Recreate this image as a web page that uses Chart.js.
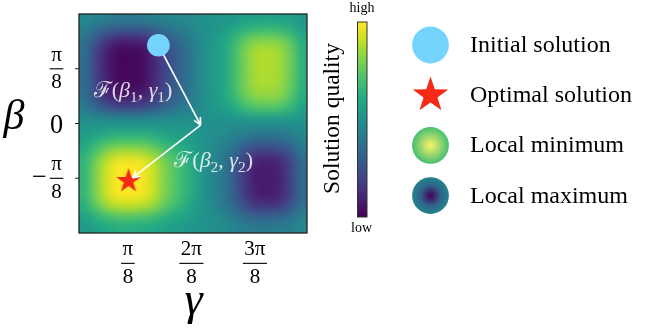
<!DOCTYPE html>
<html>
<head>
<meta charset="utf-8">
<title>Solution quality landscape</title>
<script src="https://cdn.jsdelivr.net/npm/chart.js@4.4.1/dist/chart.umd.min.js"></script>
<style>
  html, body { margin: 0; padding: 0; background: #fff; }
  #wrap { width: 664px; height: 332px; }
</style>
</head>
<body>
<div id="wrap"><canvas id="landscape" width="664" height="332"></canvas></div>
<script>
// axis values are in units of pi/8
const gammaRange = [0.23, 3.82];
const betaRange = [-2, 2];
const gammaTicks = [1, 2, 3];
const gammaTickLabels = ['π/8', '2π/8', '3π/8'];
const betaTicks = [1, 0, -1];
const betaTickLabels = ['π/8', '0', '−π/8'];

// solution quality (0 = low, 1 = high), rows from top (beta = 2) to bottom (beta = -2)
const quality = [
  [0.47,0.44,0.42,0.40,0.40,0.41,0.42,0.44,0.46,0.47,0.49,0.51,0.52,0.53,0.56,0.57,0.58,0.57,0.56,0.53],
  [0.42,0.35,0.29,0.26,0.26,0.26,0.30,0.35,0.39,0.43,0.48,0.51,0.54,0.59,0.65,0.68,0.69,0.68,0.64,0.57],
  [0.37,0.25,0.15,0.09,0.09,0.10,0.16,0.25,0.32,0.39,0.46,0.52,0.57,0.65,0.75,0.81,0.82,0.81,0.74,0.62],
  [0.35,0.20,0.08,0.02,0.02,0.03,0.10,0.20,0.29,0.37,0.45,0.53,0.58,0.67,0.79,0.87,0.88,0.86,0.78,0.64],
  [0.35,0.20,0.08,0.02,0.02,0.03,0.10,0.20,0.29,0.37,0.45,0.53,0.58,0.67,0.79,0.87,0.88,0.86,0.78,0.64],
  [0.35,0.20,0.08,0.02,0.02,0.03,0.10,0.20,0.29,0.37,0.45,0.53,0.58,0.67,0.79,0.87,0.88,0.86,0.78,0.64],
  [0.35,0.21,0.09,0.03,0.03,0.04,0.11,0.21,0.29,0.37,0.45,0.53,0.58,0.67,0.79,0.86,0.87,0.85,0.77,0.64],
  [0.37,0.24,0.13,0.08,0.08,0.09,0.15,0.24,0.31,0.38,0.46,0.52,0.57,0.65,0.76,0.82,0.83,0.82,0.74,0.62],
  [0.41,0.32,0.25,0.21,0.21,0.22,0.26,0.32,0.37,0.42,0.47,0.52,0.55,0.60,0.68,0.72,0.73,0.72,0.67,0.58],
  [0.48,0.46,0.45,0.44,0.44,0.44,0.45,0.46,0.47,0.48,0.49,0.50,0.51,0.52,0.54,0.55,0.55,0.55,0.54,0.52],
  [0.52,0.54,0.56,0.57,0.57,0.57,0.56,0.54,0.53,0.52,0.51,0.50,0.49,0.47,0.45,0.44,0.44,0.44,0.46,0.48],
  [0.56,0.62,0.67,0.70,0.70,0.70,0.67,0.62,0.59,0.56,0.52,0.49,0.46,0.42,0.37,0.33,0.33,0.34,0.37,0.44],
  [0.62,0.72,0.81,0.86,0.86,0.85,0.80,0.72,0.66,0.60,0.54,0.48,0.43,0.36,0.26,0.20,0.19,0.21,0.27,0.39],
  [0.65,0.79,0.91,0.98,0.98,0.97,0.90,0.79,0.71,0.63,0.55,0.47,0.41,0.31,0.19,0.10,0.09,0.11,0.20,0.35],
  [0.66,0.81,0.94,1.00,1.00,0.99,0.92,0.81,0.72,0.64,0.55,0.47,0.41,0.30,0.17,0.08,0.07,0.09,0.19,0.34],
  [0.66,0.81,0.94,1.00,1.00,0.99,0.92,0.81,0.72,0.64,0.55,0.47,0.41,0.30,0.17,0.08,0.07,0.09,0.19,0.34],
  [0.66,0.80,0.93,0.99,0.99,0.98,0.91,0.80,0.72,0.64,0.55,0.47,0.41,0.31,0.18,0.09,0.08,0.10,0.19,0.34],
  [0.63,0.75,0.85,0.90,0.90,0.89,0.84,0.75,0.68,0.61,0.54,0.48,0.42,0.34,0.24,0.17,0.16,0.17,0.25,0.37],
  [0.57,0.64,0.70,0.73,0.73,0.72,0.69,0.64,0.60,0.56,0.52,0.49,0.46,0.41,0.35,0.31,0.31,0.32,0.36,0.43],
  [0.54,0.57,0.60,0.62,0.62,0.61,0.60,0.57,0.55,0.53,0.51,0.49,0.48,0.45,0.42,0.40,0.40,0.41,0.43,0.46]
];

// optimisation path
const initialPoint = { x: 1.48, y: 1.43 };
const stepPoint = { x: 2.145, y: -0.03 };
const optimalPoint = { x: 1.01, y: -1.05 };
const stepLabels = ['ℱ(β_1, γ_1)', 'ℱ(β_2, γ_2)'];
const stepLabelAnchors = [{ x: 1.08, y: 0.48 }, { x: 2.35, y: -0.80 }];

const legendLabels = ['Initial solution', 'Optimal solution', 'Local minimum', 'Local maximum'];
const colorbarTitle = 'Solution quality';
const colorbarEnds = ['high', 'low'];

const SERIF = '"Liberation Serif", "DejaVu Serif", serif';
const viridisStops = ['#440154', '#482475', '#414487', '#355f8d', '#2a788e', '#21918c',
                      '#22a884', '#44bf70', '#7ad151', '#bddf26', '#fde725'];

function hexToRgb(h) {
    return [1, 3, 5].map(i => parseInt(h.substr(i, 2), 16));
}

function viridis(t) {
    t = Math.min(1, Math.max(0, t));
    const p = t * (viridisStops.length - 1);
    const i = Math.min(Math.floor(p), viridisStops.length - 2);
    const f = p - i;
    const a = hexToRgb(viridisStops[i]), b = hexToRgb(viridisStops[i + 1]);
    return a.map((v, k) => Math.round(v + (b[k] - v) * f));
}

function starPath(ctx, cx, cy, R) {
    const r = R * 0.39;
    ctx.beginPath();
    for (let k = 0; k < 10; k++) {
        const rad = k % 2 ? r : R;
        const a = -Math.PI / 2 + k * Math.PI / 5;
        const px = cx + rad * Math.cos(a), py = cy + rad * Math.sin(a);
        k ? ctx.lineTo(px, py) : ctx.moveTo(px, py);
    }
    ctx.closePath();
}

function starImage(R, color) {
    const c = document.createElement('canvas');
    c.width = c.height = Math.ceil(2 * R + 2);
    const g = c.getContext('2d');
    starPath(g, c.width / 2, c.height / 2, R);
    g.fillStyle = color;
    g.fill();
    return c;
}

function drawArrow(ctx, p0, p1, shrinkA, shrinkB) {
    const dx = p1.x - p0.x, dy = p1.y - p0.y;
    const len = Math.hypot(dx, dy), ux = dx / len, uy = dy / len;
    const sx = p0.x + ux * shrinkA, sy = p0.y + uy * shrinkA;
    const ex = p1.x - ux * shrinkB, ey = p1.y - uy * shrinkB;
    ctx.beginPath();
    ctx.moveTo(sx, sy);
    ctx.lineTo(ex, ey);
    const hl = 8, ang = 0.45;
    [-1, 1].forEach(s => {
        const c = Math.cos(s * ang), n = Math.sin(s * ang);
        ctx.moveTo(ex, ey);
        ctx.lineTo(ex + hl * (-ux * c + uy * n), ey + hl * (-ux * n - uy * c));
    });
    ctx.stroke();
}

// 'ℱ(β_1, γ_1)': greek letters in italic, '_x' as subscript
function drawMathLabel(ctx, label, cx, baseY, size) {
    const runs = [];
    for (let i = 0; i < label.length; i++) {
        const ch = label[i];
        if (ch === '_') { runs.push({ t: label[++i], sub: true }); continue; }
        runs.push({ t: ch, italic: 'βγ'.includes(ch) });
    }
    const fontFor = r => `${r.italic ? 'italic ' : ''}${r.sub ? size * 0.7 : size}px ${SERIF}`;
    let total = 0;
    runs.forEach(r => { ctx.font = fontFor(r); r.w = ctx.measureText(r.t).width; total += r.w; });
    let x = cx - total / 2;
    ctx.textAlign = 'left';
    ctx.textBaseline = 'alphabetic';
    runs.forEach(r => {
        ctx.font = fontFor(r);
        ctx.fillText(r.t, x, baseY + (r.sub ? size * 0.2 : 0));
        x += r.w;
    });
}

// tick label like '2π/8' drawn as a stacked fraction, bar at barY
function drawTickLabel(ctx, label, cx, barY, size) {
    ctx.fillStyle = '#000';
    ctx.textBaseline = 'alphabetic';
    ctx.textAlign = 'center';
    if (!label.includes('/')) {
        ctx.font = `${size * 1.25}px ${SERIF}`;
        ctx.fillText(label, cx, barY + 9.5);
        return;
    }
    let sign = '';
    if (label.startsWith('−')) { sign = '−'; label = label.slice(1); }
    const [num, den] = label.split('/');
    ctx.font = `${size}px ${SERIF}`;
    const w = Math.max(ctx.measureText(num).width, ctx.measureText(den).width) + 3;
    ctx.fillText(num, cx, barY - 8);
    ctx.fillText(den, cx, barY + 19.5);
    ctx.fillRect(cx - w / 2, barY - 0.5, w, 1.1);
    if (sign) {
        ctx.font = `${size * 1.25}px ${SERIF}`;
        ctx.textAlign = 'right';
        ctx.fillText(sign, cx - w / 2 - 3, barY + 6.5);
    }
}

const heatmapPlugin = {
    id: 'heatmap',
    beforeDatasetsDraw(chart) {
        const { ctx, scales: { x, y } } = chart;
        const rows = quality.length, cols = quality[0].length;
        const off = document.createElement('canvas');
        off.width = cols;
        off.height = rows;
        const octx = off.getContext('2d');
        const img = octx.createImageData(cols, rows);
        quality.forEach((row, j) => row.forEach((v, i) => {
            const [r, g, b] = viridis(v);
            const k = (j * cols + i) * 4;
            img.data[k] = r; img.data[k + 1] = g; img.data[k + 2] = b; img.data[k + 3] = 255;
        }));
        octx.putImageData(img, 0, 0);
        const left = x.getPixelForValue(gammaRange[0]), right = x.getPixelForValue(gammaRange[1]);
        const top = y.getPixelForValue(betaRange[1]), bottom = y.getPixelForValue(betaRange[0]);
        ctx.save();
        ctx.imageSmoothingEnabled = true;
        ctx.imageSmoothingQuality = 'high';
        ctx.drawImage(off, left, top, right - left, bottom - top);
        ctx.restore();
    }
};

const overlayPlugin = {
    id: 'overlay',
    afterDatasetsDraw(chart) {
        const { ctx, scales: { x, y } } = chart;
        const px = p => ({ x: x.getPixelForValue(p.x), y: y.getPixelForValue(p.y) });
        ctx.save();
        ctx.strokeStyle = '#fff';
        ctx.lineWidth = 1.7;
        ctx.lineJoin = 'round';
        drawArrow(ctx, px(initialPoint), px(stepPoint), 11.3, 0);
        drawArrow(ctx, px(stepPoint), px(optimalPoint), 0, 5);
        ctx.fillStyle = 'rgba(255,255,255,0.82)';
        stepLabels.forEach((lbl, i) => {
            const a = px(stepLabelAnchors[i]);
            drawMathLabel(ctx, lbl, a.x, a.y, 22);
        });
        ctx.restore();
    },
    afterDraw(chart) {
        const { ctx, chartArea: area, scales: { x, y } } = chart;
        ctx.save();

        // frame and y tick marks
        ctx.strokeStyle = '#222';
        ctx.lineWidth = 1.3;
        ctx.strokeRect(area.left, area.top, area.right - area.left, area.bottom - area.top);
        ctx.lineWidth = 1;
        betaTicks.forEach(v => {
            const ty = y.getPixelForValue(v);
            ctx.beginPath();
            ctx.moveTo(area.left - 4, ty);
            ctx.lineTo(area.left, ty);
            ctx.stroke();
        });

        // tick labels
        betaTicks.forEach((v, i) => drawTickLabel(ctx, betaTickLabels[i], area.left - 22.5, y.getPixelForValue(v), 21));
        gammaTicks.forEach((v, i) => drawTickLabel(ctx, gammaTickLabels[i], x.getPixelForValue(v), area.bottom + 30.3, 21));

        // axis titles
        ctx.fillStyle = '#000';
        ctx.textAlign = 'center';
        ctx.font = `italic 42px ${SERIF}`;
        ctx.fillText('β', 14, 129);
        ctx.font = `italic 46px ${SERIF}`;
        ctx.fillText('γ', (area.left + area.right) / 2 + 0.5, 314);

        // colorbar
        const cb = { left: 357.5, right: 367, top: 22, bottom: 217 };
        const grad = ctx.createLinearGradient(0, cb.bottom, 0, cb.top);
        viridisStops.forEach((c, i) => grad.addColorStop(i / (viridisStops.length - 1), c));
        ctx.fillStyle = grad;
        ctx.fillRect(cb.left, cb.top, cb.right - cb.left, cb.bottom - cb.top);
        ctx.strokeStyle = '#333';
        ctx.lineWidth = 1;
        ctx.strokeRect(cb.left, cb.top, cb.right - cb.left, cb.bottom - cb.top);
        ctx.fillStyle = '#000';
        ctx.font = `14px ${SERIF}`;
        ctx.fillText(colorbarEnds[0], 362, 12);
        ctx.fillText(colorbarEnds[1], 361.5, 232);
        ctx.save();
        ctx.translate(339, 118.5);
        ctx.rotate(-Math.PI / 2);
        ctx.font = `23.5px ${SERIF}`;
        ctx.fillText(colorbarTitle, 0, 0);
        ctx.restore();

        // legend
        const rowY = [45, 95.2, 145.4, 195.6];
        const mx = 430.5, r = 18.4;
        ctx.fillStyle = '#75d4fd';
        ctx.beginPath(); ctx.arc(mx, rowY[0], r, 0, 2 * Math.PI); ctx.fill();
        ctx.fillStyle = '#f42a16';
        starPath(ctx, mx, rowY[1], 18.7); ctx.fill();
        const gMin = ctx.createRadialGradient(mx, rowY[2], 0, mx, rowY[2], r);
        gMin.addColorStop(0, '#fbf36a'); gMin.addColorStop(1, viridisStops[7]);
        ctx.fillStyle = gMin;
        ctx.beginPath(); ctx.arc(mx, rowY[2], r, 0, 2 * Math.PI); ctx.fill();
        const gMax = ctx.createRadialGradient(mx, rowY[3], 0, mx, rowY[3], r);
        gMax.addColorStop(0, viridisStops[0]); gMax.addColorStop(0.55, '#30628c'); gMax.addColorStop(1, '#23858a');
        ctx.fillStyle = gMax;
        ctx.beginPath(); ctx.arc(mx, rowY[3], r, 0, 2 * Math.PI); ctx.fill();
        ctx.fillStyle = '#000';
        ctx.textAlign = 'left';
        ctx.font = `24px ${SERIF}`;
        legendLabels.forEach((lbl, i) => ctx.fillText(lbl, 470, rowY[i] + 7));

        ctx.restore();
    }
};

const chart = new Chart(document.getElementById('landscape'), {
    type: 'scatter',
    data: {
        datasets: [
            {
                label: legendLabels[0],
                data: [initialPoint],
                pointStyle: 'circle',
                pointRadius: 11.3,
                backgroundColor: '#75d4fd',
                borderWidth: 0
            },
            {
                label: legendLabels[1],
                data: [optimalPoint],
                pointStyle: starImage(12.9, '#f42a16'),
                pointRadius: 13
            }
        ]
    },
    options: {
        responsive: false,
        animation: false,
        devicePixelRatio: 1,
        layout: { padding: { left: 79, top: 5, right: 357, bottom: 99 } },
        scales: {
            x: { type: 'linear', min: gammaRange[0], max: gammaRange[1], display: false },
            y: { type: 'linear', min: betaRange[0], max: betaRange[1], display: false }
        },
        plugins: {
            legend: { display: false },
            tooltip: { enabled: false }
        }
    },
    plugins: [heatmapPlugin, overlayPlugin]
});
</script>
</body>
</html>
